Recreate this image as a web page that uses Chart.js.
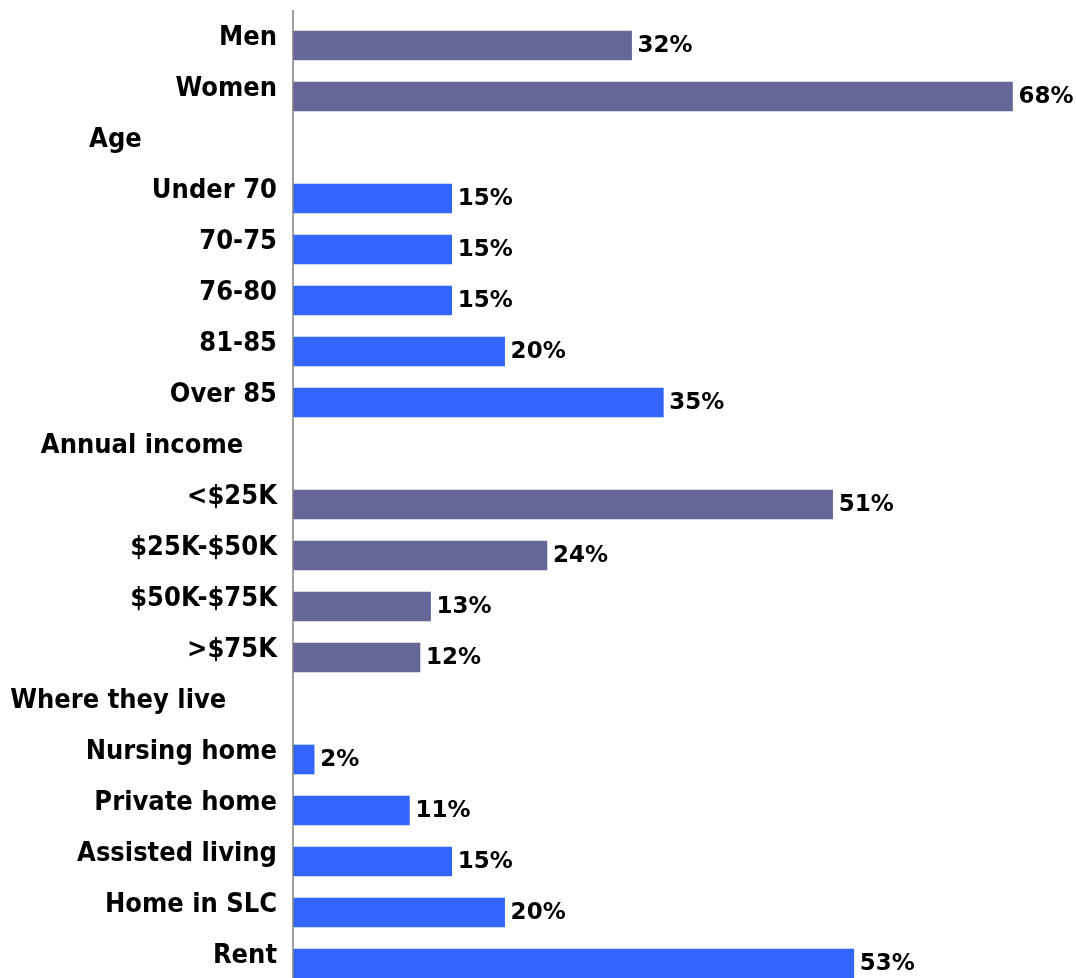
<!DOCTYPE html>
<html>
<head>
<meta charset="utf-8">
<script src="https://cdn.jsdelivr.net/npm/chart.js@4"></script>
<style>
  html, body { margin: 0; padding: 0; background: #fff; overflow: hidden; }
  #wrap { width: 1076px; height: 989px; }
</style>
</head>
<body>
<div id="wrap"><canvas id="myChartProfile"></canvas></div>
<script>
// rows of the chart, headers have no value
const categories = ["Men", "Women", "Age", "Under 70", "70-75", "76-80", "81-85", "Over 85",
  "Annual income", "<$25K", "$25K-$50K", "$50K-$75K", ">$75K",
  "Where they live", "Nursing home", "Private home", "Assisted living", "Home in SLC", "Rent"];
const values = [32, 68, null, 15, 15, 15, 20, 35, null, 51, 24, 13, 12, null, 2, 11, 15, 20, 53];
const headers = ["Age", "Annual income", "Where they live"];

// headers sit further left than the other labels
const headerPad = { "Age": 16, "Annual income": 4, "Where they live": 6 };

const colorA = "#666699";
const colorB = "#3366FF";
let barColors = [];
let grp = 0;
categories.forEach(function (c) {
  if (headers.includes(c)) grp++;
  barColors.push(grp % 2 === 0 ? colorA : colorB);
});

// value text at the end of each bar + axis line
const valueLabels = {
  id: "valueLabels",
  afterDatasetsDraw(chart) {
    const ctx = chart.ctx;
    const meta = chart.getDatasetMeta(0);
    ctx.save();
    ctx.font = "bold 23px 'DejaVu Sans'";
    ctx.fillStyle = "#000";
    ctx.textAlign = "left";
    ctx.textBaseline = "middle";
    meta.data.forEach(function (bar, i) {
      if (values[i] === null) return;
      ctx.fillText(values[i] + "%", bar.x + 6, bar.y + 1);
    });
    // axis line
    const x0 = chart.scales.x.getPixelForValue(0);
    ctx.strokeStyle = "#808080";
    ctx.lineWidth = 1.5;
    ctx.beginPath();
    ctx.moveTo(x0, chart.chartArea.top - 10);
    ctx.lineTo(x0, chart.chartArea.bottom);
    ctx.stroke();
    ctx.restore();
  }
};

const ctx = document.getElementById("myChartProfile").getContext("2d");
let myChartProfile = new Chart(ctx, {
  type: "bar",
  data: {
    labels: categories,
    datasets: [{
      data: values,
      backgroundColor: barColors,
      borderWidth: 0,
      barThickness: 29,
    }],
  },
  options: {
    indexAxis: "y",
    responsive: true,
    maintainAspectRatio: false,
    animation: false,
    layout: { padding: { top: 20, right: 0, bottom: 0, left: 0 } },
    plugins: {
      legend: { display: false },
      tooltip: { enabled: false },
    },
    scales: {
      x: {
        display: false,
        min: 0,
        max: 74,
      },
      y: {
        afterFit: function (scale) {
          scale.width = 293;
          scale.paddingTop = 0;
          scale.paddingBottom = 0;
        },
        grid: { display: false, drawTicks: false },
        border: { display: false },
        ticks: {
          color: "#000",
          padding: 16,
          labelOffset: -8,
          autoSkip: false,
          font: {
            size: 27,
            weight: "bold",
            family: "'DejaVu Sans Condensed', 'DejaVu Sans'",
          },
          callback: function (val, idx) {
            const lab = categories[idx];
            if (headerPad[lab]) return lab + "\u00a0".repeat(headerPad[lab]);
            return lab;
          }
        }
      },
    },
  },
  plugins: [valueLabels],
});
</script>
</body>
</html>
